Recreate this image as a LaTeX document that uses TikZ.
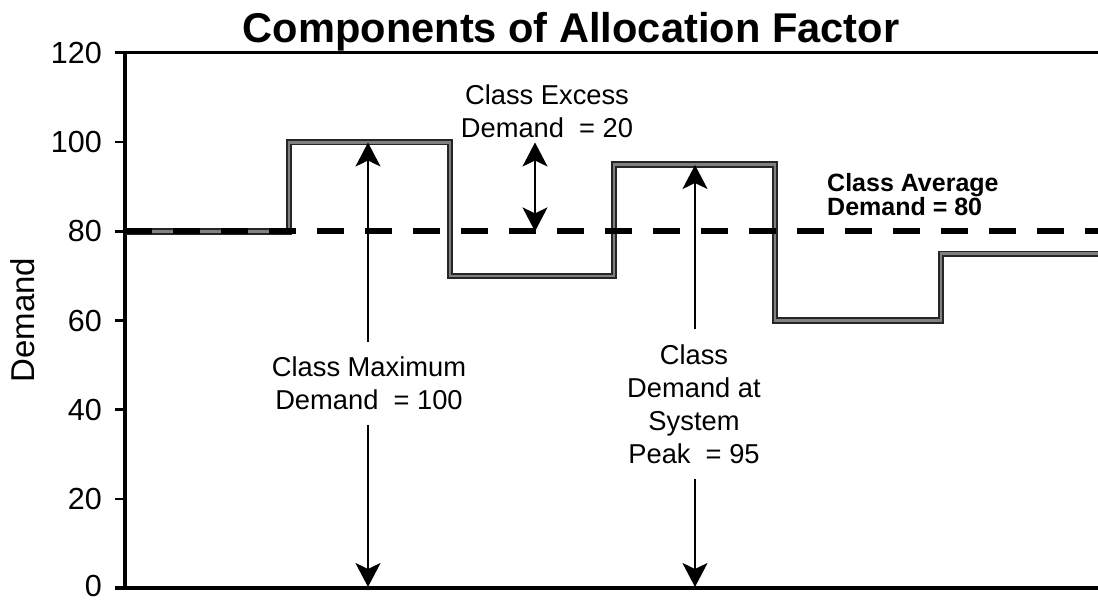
\documentclass[tikz,border=0pt]{standalone}
\usepackage{fontspec}
\setmainfont{Liberation Sans}
\usetikzlibrary{arrows.meta}
\tikzset{
  axisline/.style={line width=4.5pt, black},
  topline/.style={line width=3pt, black},
  tickline/.style={line width=2.5pt, black},
  ticklbl/.style={anchor=east, inner sep=0pt, font={\fontsize{30.5}{36}\selectfont}},
  stepline/.style={line width=1.8pt, draw=black!85, double=black!50, double distance=2.6pt, line join=miter},
  avgline/.style={line width=6pt, black, dash pattern=on 27pt off 21pt},
  arr/.style={line width=2pt, -{Stealth[length=24pt,width=25pt,inset=6pt]}},
  dblarr/.style={line width=2pt, {Stealth[length=24pt,width=25pt,inset=6pt]}-{Stealth[length=24pt,width=25pt,inset=6pt]}},
  lbl/.style={align=center, inner sep=0pt, font={\fontsize{27.3}{33}\selectfont}},
  gaplbl/.style={align=center, inner xsep=0pt, inner ysep=15pt, font={\fontsize{27.3}{33}\selectfont}},
  boldlbl/.style={align=left, inner sep=0pt, font={\bfseries\fontsize{25}{24}\selectfont}}
}
\begin{document}
\begin{tikzpicture}[x=1pt,y=-1pt]
\useasboundingbox (0,0) rectangle (1098,602);
% title
\node[anchor=base, inner sep=0pt, font={\bfseries\fontsize{41.6}{48}\selectfont}] (title) at (571,43) {Components of Allocation Factor};
% axis label
\node[rotate=90, inner sep=0pt, font={\fontsize{33}{38}\selectfont}] (ylabel) at (22.5,320) {Demand};
% frame lines
\draw[topline] (115,53) -- (1098,53);
\draw[axisline] (125,53) -- (125,588);
\draw[axisline] (115,588) -- (1098,588);
% ticks
\foreach \v/\yy in {120/53,100/142.2,80/231.4,60/320.5,40/409.7,20/498.8,0/588} {
  \draw[tickline] (115,\yy) -- (125,\yy);
}
\foreach \v/\yy in {120/53,100/142.2,80/231.4,60/320.5,40/409.7,20/498.8,0/586} {
  \node[ticklbl] (tick\v) at (102,\yy) {\v};
}
% step demand line
\draw[stepline] (125,231.4) -- (289,231.4) -- (289,142.2) -- (450,142.2) -- (450,275.9)
  -- (614,275.9) -- (614,164.5) -- (775,164.5) -- (775,320.5) -- (941,320.5)
  -- (941,253.7) -- (1098,253.7);
% average dashed line
\coordinate (avgL) at (125,231.4);
\coordinate (avgR) at (1098,231.4);
\draw[avgline] (avgL) -- (avgR);
% class average label
\node[boldlbl, anchor=west] (avglbl) at (827,194.5) {Class Average\\Demand = 80};
% class excess
\node[lbl] (exclbl) at (547,111.5) {Class Excess\\Demand\ \ = 20};
\coordinate (exctop) at (535,142.5);
\coordinate (excbot) at (535,231.4);
\draw[dblarr] (excbot) -- (exctop);
% class maximum
\coordinate (maxtop) at (368,142.5);
\coordinate (maxbot) at (368,587);
\node[gaplbl] (maxlbl) at (369,383.5) {Class Maximum\\Demand\ \ = 100};
\draw[arr] (maxlbl.north -| maxtop) -- (maxtop);
\draw[arr] (maxlbl.south -| maxbot) -- (maxbot);
% class demand at system peak
\coordinate (pktop) at (695,165);
\coordinate (pkbot) at (695,587);
\node[gaplbl] (pklbl) at (694,404) {Class\\Demand at\\System\\Peak\ \ = 95};
\draw[arr] (pklbl.north -| pktop) -- (pktop);
\draw[arr] (pklbl.south -| pkbot) -- (pkbot);
\end{tikzpicture}
\end{document}
